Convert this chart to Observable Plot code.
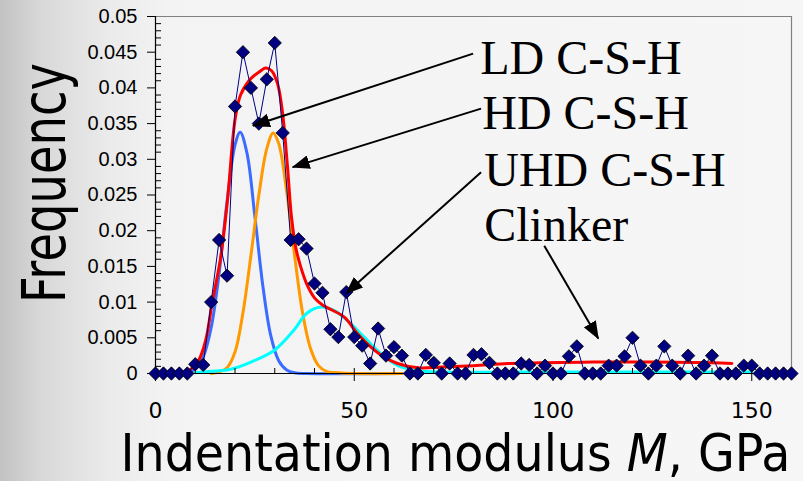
<!DOCTYPE html>
<html><head><meta charset="utf-8">
<script src="https://cdn.jsdelivr.net/npm/d3@7"></script>
<script src="https://cdn.jsdelivr.net/npm/@observablehq/plot@0.6"></script>
<style>
html,body{margin:0;padding:0;}
body{width:803px;height:481px;overflow:hidden;background:linear-gradient(to right,#c2c2c2 0px,#d8d8d8 40px,#ebebeb 110px,#f3f3f3 170px,#f6f6f6 100%);}
</style></head><body><div id="chart"></div>
<script>
// Measured histogram (diamonds)
const modulus = [0,2,4,6,8,10,12,14,16,18,20,22,24,26,28,30,32,34,36,38,40,42,44,46,48,50,52,54,56,58,60,62,64,66,68,70,72,74,76,78,80,82,84,86,88,90,92,94,96,98,100,102,104,106,108,110,112,114,116,118,120,122,124,126,128,130,132,134,136,138,140,142,144,146,148,150,152,154,156,158,160];
const frequency = [0,0,0,0,0,0.0013,0.0012,0.0100,0.0187,0.0137,0.0374,0.0450,0.0400,0.0350,0.0412,0.0463,0.0337,0.0187,0.0188,0.0175,0.0126,0.0113,0.0062,0.0051,0.0114,0.0051,0.0039,0.0014,0.0063,0.0025,0.0037,0.0025,0,0,0.0026,0.0015,0,0.0014,0,0,0.0026,0.0027,0.0015,0,0,0,0.0014,0.0012,0,0.0011,0,0,0.0024,0.0038,0,0,0,0.0011,0.0011,0.0024,0.0050,0.0011,0,0.0011,0.0038,0.0011,0,0.0025,0,0.0011,0.0025,0,0,0,0.0011,0.0011,0,0,0,0,0];

// Fitted phase curves
const ldM = [8,10,12,14,16,18,20,21.3,23,25,27,29,31,33,35,38,62];
const ldF = [0.0001,0.0006,0.0023,0.0064,0.0140,0.0241,0.0320,0.0338,0.0309,0.0220,0.0123,0.0053,0.0018,0.0005,0.0001,0,0];
const hdM = [14,16,18,20,22,24,26,28,29.6,31,33,35,37,39,41,43,46,50,62];
const hdF = [0,0.0002,0.0008,0.0030,0.0085,0.0165,0.0250,0.0315,0.0337,0.0322,0.0255,0.0165,0.0085,0.0035,0.0011,0.0003,0.0001,0,0];
const uhdM = [10,14,18.9,24,30,35,38,41.6,45,48.3,52.5,56.7,61,66,72,90,120,150];
const uhdF = [0.0001,0.0003,0.0006,0.0016,0.0033,0.0062,0.0084,0.0093,0.0088,0.0074,0.0051,0.0028,0.0011,0.0004,0.0002,0.0002,0.0002,0.0002];
const sumM = [8,10,11,12.6,14.3,16.4,18.1,20,21.4,24,26.5,27.7,29.2,30.7,31.9,33.2,34.2,35.3,36.5,38,40,42,44,47.5,50.8,54.2,57.5,60.9,66,72,80,88.7,97,110,125,140,145];
const sumF = [0.0002,0.0012,0.0020,0.0046,0.0100,0.0163,0.0242,0.0355,0.0390,0.0413,0.0424,0.0428,0.0424,0.0406,0.0368,0.0290,0.0220,0.0176,0.0150,0.0126,0.0106,0.0096,0.0090,0.0079,0.0056,0.0037,0.0023,0.0014,0.0008,0.0009,0.0011,0.0014,0.0015,0.0016,0.0016,0.0015,0.0014];

// Axis ticks
const yTicks = [0,0.005,0.01,0.015,0.02,0.025,0.03,0.035,0.04,0.045,0.05];
const yTickLabels = ["0","0.005","0.01","0.015","0.02","0.025","0.03","0.035","0.04","0.045","0.05"];
const yMinor = [0.001,0.002,0.003,0.004,0.006,0.007,0.008,0.009,0.011,0.012,0.013,0.014,0.016,0.017,0.018,0.019,0.021,0.022,0.023,0.024,0.026,0.027,0.028,0.029,0.031,0.032,0.033,0.034,0.036,0.037,0.038,0.039,0.041,0.042,0.043,0.044,0.046,0.047,0.048,0.049];
const xTicks = [0,50,100,150];
const xTickLabels = ["0","50","100","150"];
const xMinor = [10,20,30,40,60,70,80,90,110,120,130,140,160];

// Annotations
const labelText = ["LD C-S-H","HD C-S-H","UHD C-S-H","Clinker"];
const labelM = [81.7,82.2,82.7,82.7];
const labelF = [0.0420,0.0343,0.0263,0.0186];
const arrowFromM = [79.9,81.9,81.9,97.8];
const arrowFromF = [0.0448,0.0371,0.0282,0.0179];
const arrowToM = [24.5,34.5,47.9,111.4];
const arrowToF = [0.0347,0.0289,0.0112,0.0049];
const yTitle = "Frequency";
const xTitleParts = ["Indentation modulus ", "M", ", GPa"];

const pts = modulus.map((m,i)=>({m, f: frequency[i]}));
const curve = (M,F)=>M.map((m,i)=>({m, f: F[i]}));
const labels = labelText.map((t,i)=>({t, m: labelM[i], f: labelF[i]}));
const arrows = labelText.map((t,i)=>({x1: arrowFromM[i], y1: arrowFromF[i], x2: arrowToM[i], y2: arrowToF[i]}));

const chart = Plot.plot({
  width: 803, height: 481,
  marginLeft: 155, marginRight: 12, marginTop: 16, marginBottom: 108,
  style: {background: "transparent", fontFamily: "Liberation Sans, Arial, sans-serif", color: "black"},
  x: {domain: [0,160]},
  y: {domain: [0,0.05]},
  marks: [
    Plot.ruleY([0.05], {stroke: "#808080", strokeWidth: 1.2}),
    Plot.ruleX([160], {stroke: "#808080", strokeWidth: 1.2}),
    Plot.line(curve(ldM, ldF), {x: "m", y: "f", stroke: "#3b6cff", strokeWidth: 3, curve: "catmull-rom"}),
    Plot.line(curve(hdM, hdF), {x: "m", y: "f", stroke: "#ff9900", strokeWidth: 3, curve: "catmull-rom"}),
    Plot.line(curve(uhdM, uhdF), {x: "m", y: "f", stroke: "#00ffff", strokeWidth: 3, curve: "catmull-rom"}),
    Plot.line(curve(sumM, sumF), {x: "m", y: "f", stroke: "#ff0000", strokeWidth: 3, curve: "catmull-rom"}),
    Plot.ruleX([0], {stroke: "black", strokeWidth: 1.2}),
    Plot.ruleY([0], {stroke: "black", strokeWidth: 1}),
    Plot.axisY(yTicks, {tickSize: 8, tickPadding: 10, fontSize: 20, tickFormat: d => yTickLabels[yTicks.indexOf(d)], label: null}),
    Plot.axisY(yMinor, {tickSize: 6, dx: 6, tickFormat: () => "", label: null}),
    Plot.axisX(xTicks, {tickSize: 13, dy: -5, tickPadding: 21, fontSize: 22, fontFamily: "DejaVu Sans", tickFormat: d => xTickLabels[xTicks.indexOf(d)], label: null}),
    Plot.axisX(xMinor, {tickSize: 5, dy: -5, tickFormat: () => "", label: null}),
    Plot.line(pts, {x: "m", y: "f", stroke: "#000080", strokeWidth: 1}),
    Plot.dot(pts, {x: "m", y: "f", symbol: "diamond2", r: 6, fill: "#000080", stroke: "black", strokeWidth: 0.8}),
    Plot.link(arrows, {x1: "x1", y1: "y1", x2: "x2", y2: "y2", stroke: "black", strokeWidth: 2}),
    Plot.text(labels, {x: "m", y: "f", text: "t", textAnchor: "start", lineAnchor: "bottom", fontFamily: "Liberation Serif, Times New Roman, serif", fontSize: 48, fill: "black"}),
    Plot.text([yTitle], {frameAnchor: "left", rotate: -90, dx: -110, dy: -12, fontSize: 60, fontFamily: "DejaVu Sans", textAnchor: "middle", lineAnchor: "middle", fill: "black"}),
    Plot.text([xTitleParts.join("")], {frameAnchor: "bottom", dx: -18, dy: 97, fontSize: 52, fontFamily: "DejaVu Sans", textAnchor: "middle", lineAnchor: "bottom", fill: "black"})
  ]
});
document.getElementById("chart").appendChild(chart);

// Filled arrowheads on the annotation links
const svg = d3.select(chart);
const defs = svg.insert("defs", ":first-child");
defs.append("marker").attr("id", "ahead").attr("markerUnits", "userSpaceOnUse")
  .attr("viewBox", "0 0 18 14").attr("refX", 17).attr("refY", 7)
  .attr("markerWidth", 18).attr("markerHeight", 14).attr("orient", "auto")
  .append("path").attr("d", "M0,0L18,7L0,14Z").attr("fill", "black");
svg.selectAll('g[aria-label="link"] path').attr("marker-end", "url(#ahead)");
// Condensed axis titles, italic M
svg.selectAll("text").filter(function(){ return this.textContent === yTitle; })
  .attr("textLength", 240).attr("lengthAdjust", "spacingAndGlyphs");
const xl = svg.selectAll("text").filter(function(){ return this.textContent === xTitleParts.join(""); });
xl.text(null);
xl.append("tspan").text(xTitleParts[0]);
xl.append("tspan").attr("font-style", "italic").text(xTitleParts[1]);
xl.append("tspan").text(xTitleParts[2]);
xl.attr("textLength", 670).attr("lengthAdjust", "spacingAndGlyphs");
</script>
</body></html>
